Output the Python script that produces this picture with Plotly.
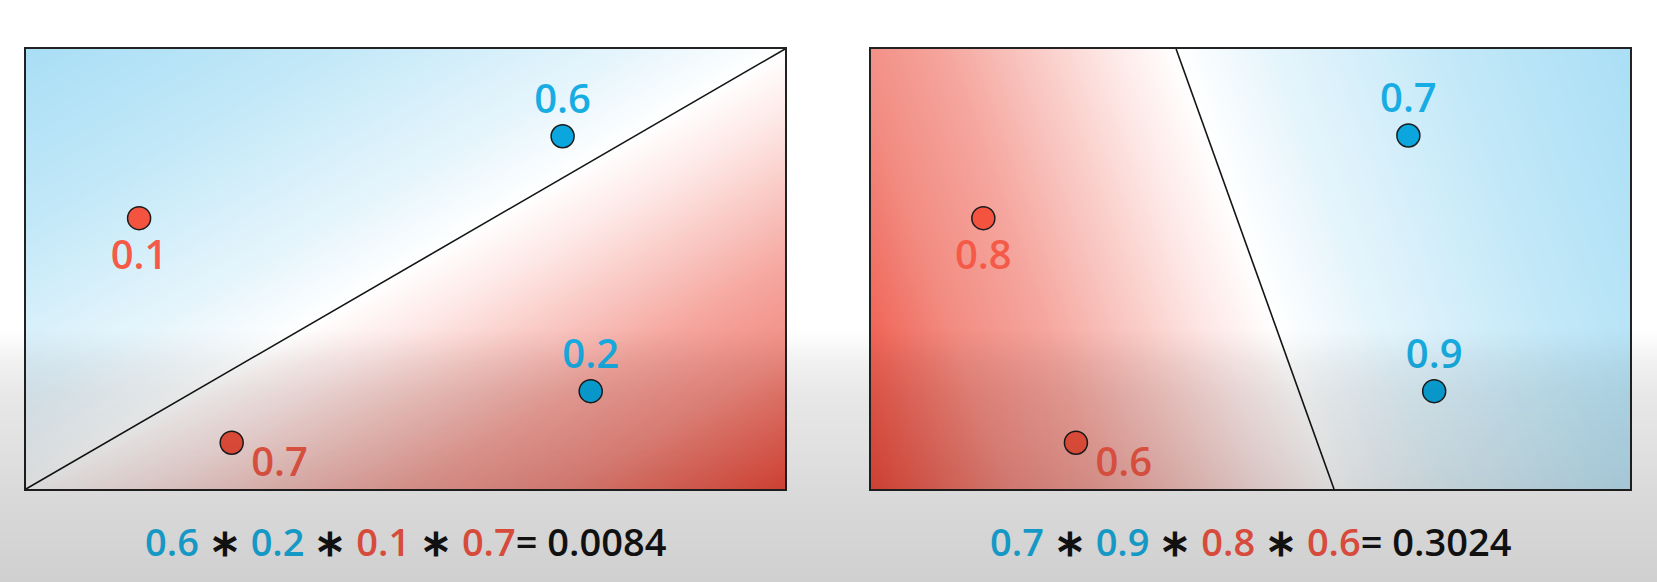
import numpy as np
import plotly.graph_objects as go

# each panel has its own units: x 0..10 to the right, y 0..5.8 upwards
panel_w = 10
panel_h = 5.8

# left panel: a poor separating line
left_blue_x = [7.07, 7.44]
left_blue_y = [4.65, 1.29]
left_blue_p = [0.6, 0.2]
left_red_x = [1.49, 2.71]
left_red_y = [3.57, 0.61]
left_red_p = [0.1, 0.7]
left_line_x = [0, 10]
left_line_y = [0, 5.8]

# right panel: a good separating line
right_blue_x = [7.08, 7.42]
right_blue_y = [4.66, 1.29]
right_blue_p = [0.7, 0.9]
right_red_x = [1.48, 2.70]
right_red_y = [3.57, 0.61]
right_red_p = [0.8, 0.6]
right_line_x = [4.02, 6.10]
right_line_y = [5.8, 0]

# where the label of each dot sits, and which corner is on the red side
left_blue_pos = ["above", "above"]
left_red_pos = ["below", "right"]
right_blue_pos = ["above", "above"]
right_red_pos = ["below", "right"]
left_red_corner = (10, 0)
right_red_corner = (0, 0)

W, H = 1657, 582
FONT = "Open Sans"
BLUE_DOT, RED_DOT = "#0aa6dd", "#f4533f"
BLUE_TXT, RED_TXT = "#18ade2", "#f45a47"
BLUE_EQ, RED_EQ = "#1698c5", "#d64b3b"
label_shift = {"above": (0, 0.436), "below": (0, -0.535), "right": (0.63, -0.31)}

shade_scale = [
    [0.0, "#a9def5"], [0.2, "#c2e8f8"], [0.4, "#e6f5fc"], [0.5, "#ffffff"],
    [0.58, "#fde6e4"], [0.75, "#f5a69e"], [0.85, "#f28c82"], [1.0, "#ef4b3b"],
]

# grey fade over the lower part of the frame (px from the bottom, darkness)
fade_y = [0, 82, 132, 190, 220, 240, 254, 582]
fade_a = [0.185, 0.15, 0.12, 0.09, 0.055, 0.02, 0, 0]

# px bounds of the two boxes
y_dom = [1 - 489 / H, 1 - 49 / H]
x_doms = [[26 / W, 785 / W], [871 / W, 1630 / W]]


def side_shading(line_x, line_y, red_corner):
    # signed distance to the line at the four corners, red side positive
    dx, dy = line_x[1] - line_x[0], line_y[1] - line_y[0]
    n = np.hypot(dx, dy)

    def dist(px, py):
        return ((px - line_x[0]) * dy - (py - line_y[0]) * dx) / n

    sign = 1 if dist(*red_corner) > 0 else -1
    cx = [0, panel_w]
    cy = [0, panel_h]
    z = np.array([[sign * dist(x, y) for x in cx] for y in cy])
    return cx, cy, z / np.abs(z).max()


def formula(blue_p, red_p):
    parts = [f"<span style='color:{BLUE_EQ}'>{p}</span>" for p in blue_p]
    parts += [f"<span style='color:{RED_EQ}'>{p}</span>" for p in red_p]
    return " <b>∗</b> ".join(parts) + f"= {np.prod(blue_p + red_p):.4f}"


panels = [
    (left_blue_x, left_blue_y, left_blue_p, left_blue_pos, left_red_x, left_red_y,
     left_red_p, left_red_pos, left_line_x, left_line_y, left_red_corner),
    (right_blue_x, right_blue_y, right_blue_p, right_blue_pos, right_red_x, right_red_y,
     right_red_p, right_red_pos, right_line_x, right_line_y, right_red_corner),
]

fig = go.Figure()

for i, (bx, by, bp, bpos, rx, ry, rp, rpos, lx, ly, corner) in enumerate(panels):
    xa = "x" if i == 0 else "x2"
    ya = "y" if i == 0 else "y2"
    cx, cy, z = side_shading(lx, ly, corner)
    fig.add_trace(go.Heatmap(x=cx, y=cy, z=z, zmin=-1, zmax=1, zsmooth="best",
                             colorscale=shade_scale, showscale=False,
                             hoverinfo="skip", xaxis=xa, yaxis=ya))
    fig.add_trace(go.Scatter(x=lx, y=ly, mode="lines",
                             line=dict(color="#151515", width=1.6),
                             hoverinfo="skip", xaxis=xa, yaxis=ya))
    for xs, ys, ps, pos, dot, txt in [(bx, by, bp, bpos, BLUE_DOT, BLUE_TXT),
                                      (rx, ry, rp, rpos, RED_DOT, RED_TXT)]:
        fig.add_trace(go.Scatter(x=xs, y=ys, mode="markers",
                                 marker=dict(size=23, color=dot,
                                             line=dict(color="#1c1c1c", width=1.5)),
                                 xaxis=xa, yaxis=ya))
        fig.add_trace(go.Scatter(x=[x + label_shift[p][0] for x, p in zip(xs, pos)],
                                 y=[y + label_shift[p][1] for y, p in zip(ys, pos)],
                                 text=[str(v) for v in ps], mode="text",
                                 textposition="middle center",
                                 textfont=dict(family=FONT, size=40, color=txt, weight=600),
                                 hoverinfo="skip", xaxis=xa, yaxis=ya))
    fig.add_annotation(x=sum(x_doms[i]) / 2, y=1 - 541 / H, xref="paper", yref="paper",
                       text=formula(bp, rp), showarrow=False,
                       xanchor="center", yanchor="middle",
                       font=dict(family=FONT, size=38, color="#111111", weight=600))

fig.add_trace(go.Heatmap(
    x=[0, W], y=fade_y, z=[[a, a] for a in fade_a], zmin=0, zmax=1, zsmooth="best",
    colorscale=[[0, "rgba(0,0,0,0)"], [1, "rgba(0,0,0,1)"]], showscale=False,
    hoverinfo="skip", xaxis="x3", yaxis="y3",
))

box_axis = dict(showgrid=False, zeroline=False, showticklabels=False, ticks="",
                showline=True, linecolor="#222222", linewidth=2, mirror=True,
                fixedrange=True)
fig.update_layout(
    width=W, height=H, margin=dict(l=0, r=0, t=0, b=0),
    paper_bgcolor="white", plot_bgcolor="rgba(0,0,0,0)", showlegend=False,
    xaxis=dict(domain=x_doms[0], range=[0, panel_w], anchor="y", **box_axis),
    yaxis=dict(domain=y_dom, range=[0, panel_h], anchor="x", **box_axis),
    xaxis2=dict(domain=x_doms[1], range=[0, panel_w], anchor="y2", **box_axis),
    yaxis2=dict(domain=y_dom, range=[0, panel_h], anchor="x2", **box_axis),
    xaxis3=dict(domain=[0, 1], range=[0, W], anchor="y3", visible=False, fixedrange=True),
    yaxis3=dict(domain=[0, 1], range=[0, H], anchor="x3", visible=False, fixedrange=True),
)

fig.write_html("out.html", config={"displayModeBar": False},
               post_script="document.body.style.margin = '0';")
